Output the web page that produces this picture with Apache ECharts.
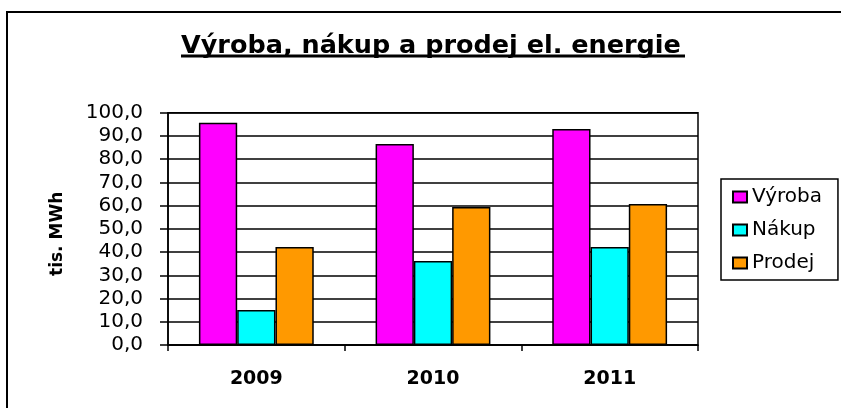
<!DOCTYPE html>
<html>
<head>
<meta charset="utf-8">
<script src="https://cdn.jsdelivr.net/npm/echarts@6/dist/echarts.min.js"></script>
<style>
  html, body { margin: 0; padding: 0; background: #fff; }
  #chart { width: 841px; height: 408px; }
</style>
</head>
<body>
<div id="chart"></div>
<script>
// data
var years = ['2009', '2010', '2011'];
var vyroba = [95.7, 86.5, 93.0];
var nakup = [15.1, 36.2, 42.2];
var prodej = [42.2, 59.4, 60.7];

var font = 'DejaVu Sans';
var chart = echarts.init(document.getElementById('chart'));

function barSeries(name, data, color) {
  return {
    name: name,
    type: 'bar',
    data: data,
    barGap: '0%',
    barCategoryGap: '35%',
    itemStyle: { color: color, borderColor: '#000', borderWidth: 1.5 }
  };
}

chart.setOption({
  animation: false,
  backgroundColor: '#fff',
  title: {
    text: 'Výroba, nákup a prodej el. energie',
    left: 181,
    top: 33,
    padding: 0,
    textStyle: { fontFamily: font, fontSize: 25.5, fontWeight: 'bold', color: '#000' }
  },
  graphic: [
    // outer frame (only top and left are inside the picture)
    { type: 'rect', shape: { x: 7, y: 12, width: 900, height: 500 },
      style: { fill: 'none', stroke: '#000', lineWidth: 2 }, silent: true },
    // title underline
    { type: 'line', shape: { x1: 181, y1: 56, x2: 685, y2: 56 },
      style: { stroke: '#000', lineWidth: 3 }, silent: true }
  ],
  legend: {
    orient: 'vertical',
    left: 721,
    top: 179,
    padding: [8, 16, 7, 11],
    itemGap: 13,
    itemWidth: 14,
    itemHeight: 11,
    icon: 'rect',
    borderColor: '#000',
    borderWidth: 1.5,
    textStyle: { fontFamily: font, fontSize: 20, color: '#000' },
    data: ['Výroba', 'Nákup', 'Prodej']
  },
  grid: { left: 168, right: 143, top: 112.7, bottom: 63, show: true, borderColor: '#000', borderWidth: 1.5 },
  xAxis: {
    type: 'category',
    data: years,
    axisLine: { lineStyle: { color: '#000', width: 1.5 } },
    axisTick: { show: true, length: 6, lineStyle: { color: '#000', width: 1.5 } },
    axisLabel: { fontFamily: font, fontSize: 19, fontWeight: 'bold', color: '#000', margin: 25 }
  },
  yAxis: {
    type: 'value',
    min: 0,
    max: 100,
    interval: 10,
    name: 'tis. MWh',
    nameLocation: 'middle',
    nameGap: 102,
    nameRotate: 90,
    nameTextStyle: { fontFamily: font, fontSize: 17, fontWeight: 'bold', color: '#000', padding: [0, 10, 0, 0] },
    axisLine: { show: true, lineStyle: { color: '#000', width: 1.5 } },
    axisTick: { show: true, length: 8, lineStyle: { color: '#000', width: 1.5 } },
    axisLabel: {
      fontFamily: font, fontSize: 20, color: '#000', margin: 25,
      formatter: function (v) { return v.toFixed(1).replace('.', ','); }
    },
    splitLine: { show: true, lineStyle: { color: '#000', width: 1.5 } }
  },
  series: [
    barSeries('Výroba', vyroba, '#FF00FF'),
    barSeries('Nákup', nakup, '#00FFFF'),
    barSeries('Prodej', prodej, '#FF9900')
  ]
});
</script>
</body>
</html>
